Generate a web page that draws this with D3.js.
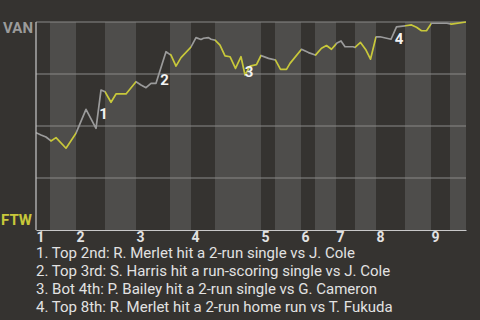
<!DOCTYPE html>
<html>
<head>
<meta charset="utf-8">
<script src="https://cdn.jsdelivr.net/npm/d3@7"></script>
<style>
  html, body { margin: 0; padding: 0; background: #353330; }
  svg { display: block; font-family: Roboto, "Noto Sans", sans-serif; }
</style>
</head>
<body>
<div id="chart"></div>
<script>
// half-inning boundaries, in plays from first pitch
const halfInningStarts = [0, 2.8, 8, 13.8, 20, 26.8, 31, 35.8, 45, 47.8, 53, 55.8, 60, 63.8, 68, 73.8, 79, 82.8, 86];
const inningLabels = ["1", "2", "3", "4", "5", "6", "7", "8", "9"];

// VAN win probability (%) after each play
const playIndex = [0, 1, 2, 3, 4, 6, 8, 10, 12, 13, 13.8, 15, 16, 18, 20, 21, 22, 23, 24, 26,
  27, 28, 29, 31, 32, 33, 33.5, 34.5, 35, 35.8, 36.8, 37.8, 38.8, 39.9, 41, 41.8, 42.8, 44.1,
  45, 46.5, 47.9, 48.9, 50.1, 50.8, 53.1, 54.5, 55.9, 57.1, 58.1, 59.1, 60.2, 61, 61.8, 63.4,
  63.8, 64.9, 66, 66.9, 68, 68.8, 71, 72.1, 73.9, 75.1, 76.1, 77.1, 78.1, 79.1, 82.2, 83.1, 86];
const vanWinPct = [46.8, 45.7, 44.7, 42.8, 44.4, 39.3, 46.5, 58.0, 48.9, 67.3, 66.5, 61.4, 65.4, 65.4, 71.3, 69.7, 68.4, 70.5, 70.5, 85.7,
  84.1, 78.8, 82.9, 88.0, 92.5, 91.6, 92.2, 92.5, 91.7, 91.3, 88.9, 83.7, 83.3, 77.7, 83.3, 74.5, 78.8, 79.5,
  83.9, 82.5, 81.7, 77.2, 77.2, 80.1, 86.9, 85.3, 84.1, 87.4, 88.7, 86.9, 89.9, 90.9, 88.1, 88.1,
  87.8, 90.2, 86.5, 82.1, 92.8, 92.9, 91.7, 97.7, 98.2, 98.6, 97.5, 95.8, 95.8, 99.4, 99.4, 99.0, 100];

const eventNotes = [
  "1. Top 2nd: R. Merlet hit a 2-run single vs J. Cole",
  "2. Top 3rd: S. Harris hit a run-scoring single vs J. Cole",
  "3. Bot 4th: P. Bailey hit a 2-run single vs G. Cameron",
  "4. Top 8th: R. Merlet hit a 2-run home run vs T. Fukuda"
];
const eventMarks = ["1", "2", "3", "4"];
const eventPlay = [13.5, 25.7, 42.6, 72.6];
const eventPct = [53.2, 69.7, 73.7, 89.4];

const gridPct = [0, 25, 50, 75, 100];

const colors = {
  bg: "#353330",
  band: "#4e4d4b",
  grid: "#8a8987",
  axis: "#c8c8c8",
  away: "#9b9b9b",
  home: "#c8c83a",
  text: "#e2e2e2"
};

const W = 480, H = 320;
const margin = { top: 22, right: 14, bottom: 90, left: 36 };
const width = W - margin.left - margin.right;
const height = H - margin.top - margin.bottom;

const svg = d3.select("#chart").append("svg")
  .attr("width", W)
  .attr("height", H);

svg.append("rect").attr("width", W).attr("height", H).attr("fill", colors.bg);

const x = d3.scaleLinear()
  .domain([0, d3.max(halfInningStarts)])
  .range([0, width]);

const y = d3.scaleLinear()
  .domain([0, 100])
  .range([height, 0]);

const g = svg.append("g").attr("transform", `translate(${margin.left},${margin.top})`);

const bands = d3.pairs(halfInningStarts).map(([a, b], i) => ({ a, b, i, bottom: i % 2 === 1 }));

// alternating half-inning bands (bottom halves lighter)
g.selectAll("rect.band")
  .data(bands.filter(d => d.bottom))
  .enter().append("rect")
  .attr("class", "band")
  .attr("x", d => x(d.a))
  .attr("y", 0)
  .attr("width", d => x(d.b) - x(d.a))
  .attr("height", height)
  .attr("fill", colors.band);

// gridlines
g.selectAll("line.grid")
  .data(gridPct.filter(d => d > 0))
  .enter().append("line")
  .attr("class", "grid")
  .attr("x1", 0).attr("x2", width)
  .attr("y1", d => y(d)).attr("y2", d => y(d))
  .attr("stroke", colors.grid)
  .attr("stroke-width", 1.2);

// clip per half inning so line colour follows batting team
const defs = svg.append("defs");
bands.forEach(d => {
  defs.append("clipPath").attr("id", `clip${d.i}`)
    .append("rect")
    .attr("x", x(d.a))
    .attr("y", -5)
    .attr("width", x(d.b) - x(d.a))
    .attr("height", height + 10);
});

const points = playIndex.map((p, i) => [p, vanWinPct[i]]);
const line = d3.line().x(d => x(d[0])).y(d => y(d[1]));

g.selectAll("path.wp")
  .data(bands)
  .enter().append("path")
  .attr("class", "wp")
  .attr("d", line(points))
  .attr("clip-path", d => `url(#clip${d.i})`)
  .attr("fill", "none")
  .attr("stroke", d => d.bottom ? colors.home : colors.away)
  .attr("stroke-width", 1.7)
  .attr("stroke-linejoin", "round");

// axes
g.append("line")
  .attr("x1", 0).attr("x2", 0)
  .attr("y1", 0).attr("y2", height)
  .attr("stroke", colors.axis).attr("stroke-width", 1.2);

g.append("g")
  .attr("transform", `translate(0,${height})`)
  .call(d3.axisBottom(x)
    .tickValues(halfInningStarts.filter((d, i) => i % 2 === 0 && i < 18))
    .tickFormat((d, i) => inningLabels[i])
    .tickSize(0))
  .call(ax => {
    ax.select(".domain").attr("stroke", colors.axis).attr("stroke-width", 1.2);
    ax.selectAll("text")
      .attr("fill", colors.text)
      .attr("text-anchor", "start")
      .attr("dy", null)
      .attr("y", 11.5)
      .style("font-size", "14px")
      .style("font-weight", "bold")
      .style("font-family", "Roboto, sans-serif");
  });

// team labels
g.append("text")
  .attr("x", -3).attr("y", y(100) + 11.3)
  .attr("text-anchor", "end")
  .attr("fill", colors.away)
  .style("font-size", "15px").style("font-weight", "bold")
  .text("VAN");

g.append("text")
  .attr("x", -4).attr("y", y(0) - 5)
  .attr("text-anchor", "end")
  .attr("fill", colors.home)
  .style("font-size", "15px").style("font-weight", "bold")
  .text("FTW");

// event markers
g.selectAll("text.mark")
  .data(eventMarks)
  .enter().append("text")
  .attr("class", "mark")
  .attr("x", (d, i) => x(eventPlay[i]))
  .attr("y", (d, i) => y(eventPct[i]))
  .attr("text-anchor", "middle")
  .attr("fill", "#f2f2f2")
  .style("font-size", "15px").style("font-weight", "bold")
  .text(d => d);

// event notes
svg.selectAll("text.note")
  .data(eventNotes)
  .enter().append("text")
  .attr("class", "note")
  .attr("x", margin.left)
  .attr("y", (d, i) => 258 + i * 18)
  .attr("fill", colors.text)
  .style("font-size", "15px")
  .text(d => d);
</script>
</body>
</html>
